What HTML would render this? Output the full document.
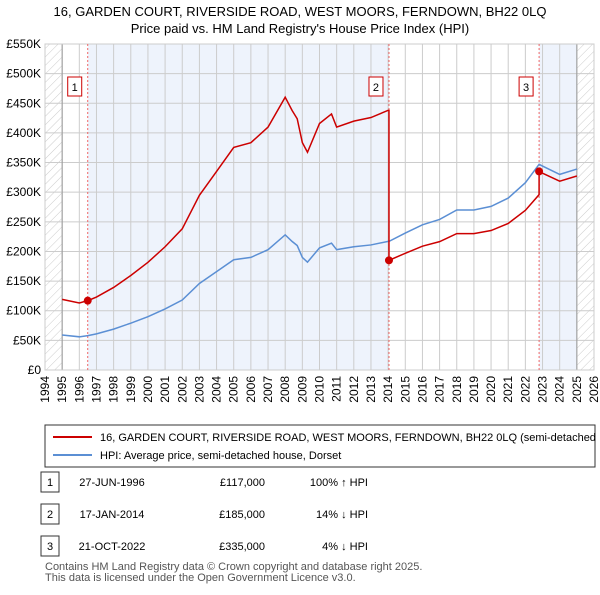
<!DOCTYPE html>
<html><head><meta charset="utf-8"><style>
body{margin:0;background:#fff;font-family:"Liberation Sans",sans-serif;}
svg text{font-family:"Liberation Sans",sans-serif;}
</style></head><body>
<svg id="c" width="600" height="590" viewBox="0 0 600 590" xmlns="http://www.w3.org/2000/svg">
<defs><pattern id="h" width="6" height="6" patternUnits="userSpaceOnUse" patternTransform="rotate(45)"><line x1="0" y1="0" x2="0" y2="6" stroke="#ccc" stroke-width="1"/></pattern></defs>
<text x="300" y="16" text-anchor="middle" font-size="13">16, GARDEN COURT, RIVERSIDE ROAD, WEST MOORS, FERNDOWN, BH22 0LQ</text>
<text x="300" y="33" text-anchor="middle" font-size="13">Price paid vs. HM Land Registry's House Price Index (HPI)</text>
<g id="plot"></g>
<rect x="45" y="425" width="550" height="42" fill="#fff" stroke="#333"/>
<line x1="53" y1="437" x2="92" y2="437" stroke="#cc0000" stroke-width="2"/>
<text x="100" y="441" font-size="11">16, GARDEN COURT, RIVERSIDE ROAD, WEST MOORS, FERNDOWN, BH22 0LQ (semi-detached</text>
<line x1="53" y1="455" x2="92" y2="455" stroke="#5b8fd4" stroke-width="2"/>
<text x="100" y="459" font-size="11">HPI: Average price, semi-detached house, Dorset</text>
<g id="tbl"></g>
<text x="45" y="570" font-size="11" fill="#555">Contains HM Land Registry data © Crown copyright and database right 2025.</text>
<text x="45" y="581" font-size="11" fill="#555">This data is licensed under the Open Government Licence v3.0.</text>
</svg>
<script>
const hpiYears=[1995,1996,1996.5,1997,1998,1999,2000,2001,2002,2003,2004,2005,2006,2007,2008,2008.4,2008.7,2009,2009.3,2010,2010.7,2011,2012,2013,2014,2014.05,2015,2016,2017,2018,2019,2020,2021,2022,2022.8,2023,2024,2025];
const hpiValues=[59,56,58,61,69,79,90,103,118,146,166,186,190,203,228,217,210,190,182,206,214,203,208,211,217,217,231,245,254,270,270,276,290,316,347,344,330,339];
const saleDates=[1996.49,2014.05,2022.8];
const salePrices=[117000,185000,335000];
const saleLabels=["1","2","3"];
const saleDateText=["27-JUN-1996","17-JAN-2014","21-OCT-2022"];
const saleHpiText=["100% \u2191 HPI","14% \u2193 HPI","4% \u2193 HPI"];
const yTicks=[0,50,100,150,200,250,300,350,400,450,500,550];
const yTickLabels=["£0","£50K","£100K","£150K","£200K","£250K","£300K","£350K","£400K","£450K","£500K","£550K"];
const xYears=[1994,1995,1996,1997,1998,1999,2000,2001,2002,2003,2004,2005,2006,2007,2008,2009,2010,2011,2012,2013,2014,2015,2016,2017,2018,2019,2020,2021,2022,2023,2024,2025,2026];

const NS="http://www.w3.org/2000/svg";
const L=45,R=594,T=44,B=370;
const X=y=>L+(y-1994)/32*(R-L);
const Y=v=>B-v/550*(B-T);
function mk(tag,at,parent){const e=document.createElementNS(NS,tag);for(const k in at)e.setAttribute(k,at[k]);parent.appendChild(e);return e;}
function hpiAt(t){for(let i=1;i<hpiYears.length;i++){if(t<=hpiYears[i]){const f=(t-hpiYears[i-1])/(hpiYears[i]-hpiYears[i-1]);return hpiValues[i-1]+f*(hpiValues[i]-hpiValues[i-1]);}}return hpiValues[hpiValues.length-1];}
const g=document.getElementById('plot');
let bg=mk('rect',{x:L,y:T,width:R-L,height:B-T,fill:'#fff'},g);


mk('rect',{x:X(saleDates[0]),y:T,width:X(saleDates[1])-X(saleDates[0]),height:B-T,fill:'#eef3fc'},g);
mk('rect',{x:X(saleDates[2]),y:T,width:X(2025)-X(saleDates[2]),height:B-T,fill:'#eef3fc'},g);
let h1=mk('rect',{x:L,y:T,width:X(1995)-L,height:B-T,fill:'url(#h)'},g);


let h2=mk('rect',{x:X(2025),y:T,width:R-X(2025),height:B-T,fill:'url(#h)'},g);


xYears.forEach(yr=>{mk('line',{x1:X(yr),y1:T,x2:X(yr),y2:B,stroke:'#ccc','stroke-width':1},g);
 const tx=X(yr)+4, ty=376;
 let t=mk('text',{x:tx,y:ty,'text-anchor':'end','font-size':12,transform:'rotate(-90 '+tx+' '+ty+')'},g);t.textContent=yr;
 
 });
yTicks.forEach((v,i)=>{mk('line',{x1:L,y1:Y(v),x2:R,y2:Y(v),stroke:'#ccc','stroke-width':1},g);
 let t=mk('text',{x:41,y:Y(v)+4,'text-anchor':'end','font-size':12},g);t.textContent=yTickLabels[i];
 
 });
mk('line',{x1:X(1995),y1:T,x2:X(1995),y2:B,stroke:'#999'},g);
mk('line',{x1:X(2025),y1:T,x2:X(2025),y2:B,stroke:'#999'},g);
mk('rect',{x:L,y:T,width:R-L,height:B-T,fill:'none',stroke:'#ccc'},g);
saleDates.forEach(d=>mk('line',{x1:X(d),y1:T,x2:X(d),y2:B,stroke:'#e66','stroke-dasharray':'2,2','stroke-width':1},g));
let pts=hpiYears.map((y,i)=>X(y)+','+Y(hpiValues[i])).join(' ');
let hl=mk('polyline',{points:pts,fill:'none',stroke:'#5b8fd4','stroke-width':1.5},g);


let rp=[];
const samples=[];
hpiYears.forEach(y=>samples.push(y));
saleDates.forEach(d=>{samples.push(d-0.001);samples.push(d);});
samples.sort((a,b)=>a-b);
samples.forEach(t=>{let k=0;for(let i=0;i<saleDates.length;i++)if(t>=saleDates[i])k=i;
 const v=salePrices[k]/1000*hpiAt(t)/hpiAt(saleDates[k]);rp.push(X(t)+','+Y(v));});
let pl=mk('polyline',{points:rp.join(' '),fill:'none',stroke:'#cc0000','stroke-width':1.5},g);


saleDates.forEach((d,i)=>{
 let c=mk('circle',{cx:X(d),cy:Y(salePrices[i]/1000),r:4,fill:'#cc0000'},g);
 
 
 let bx=X(d)-14;
 let r=mk('rect',{x:bx-6,y:77,width:14,height:19,fill:'#fff',stroke:'#cc0000'},g);
 
 
 let t=mk('text',{x:bx+1,y:91,'text-anchor':'middle','font-size':11},g);t.textContent=saleLabels[i];});
const tb=document.getElementById('tbl');
saleDates.forEach((d,i)=>{const y=482+i*32;
 let r=mk('rect',{x:41,y:y-10,width:18,height:20,fill:'#fff',stroke:'#333'},tb);
 
 
 let a=mk('text',{x:50,y:y+4,'text-anchor':'middle','font-size':11},tb);a.textContent=saleLabels[i];
 let b=mk('text',{x:112,y:y+4,'text-anchor':'middle','font-size':11},tb);b.textContent=saleDateText[i];
 
 
 let c=mk('text',{x:265,y:y+4,'text-anchor':'end','font-size':11},tb);c.textContent='£'+salePrices[i].toLocaleString('en-GB');
 
 
 let e=mk('text',{x:368,y:y+4,'text-anchor':'end','font-size':11},tb);e.textContent=saleHpiText[i];
 
 });
</script>
</body></html>
